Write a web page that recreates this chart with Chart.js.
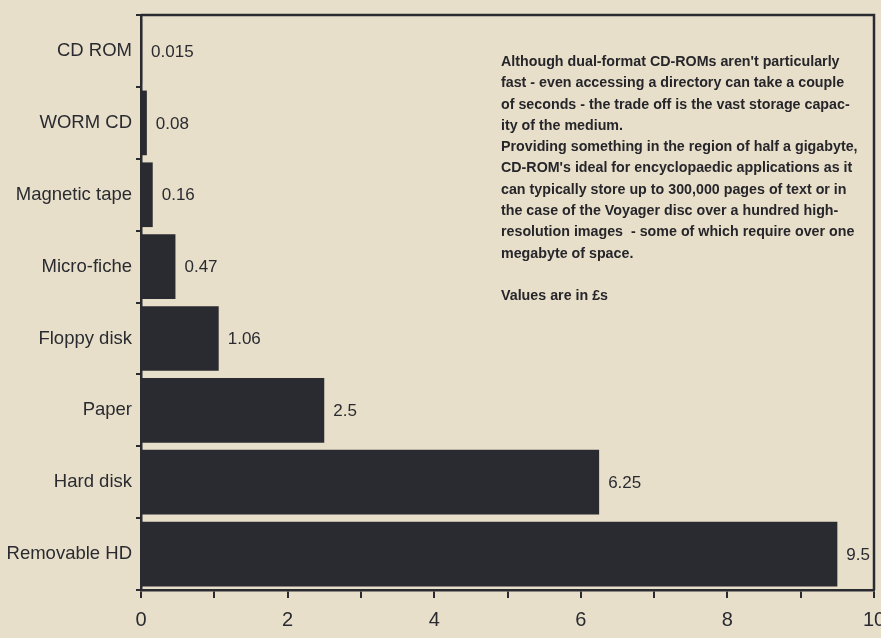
<!DOCTYPE html>
<html>
<head>
<meta charset="utf-8">
<script src="https://cdn.jsdelivr.net/npm/chart.js@4"></script>
<style>
  html, body { margin: 0; padding: 0; background: #e8dfcb; }
  #wrap { position: relative; width: 881px; height: 638px; overflow: hidden; }
  #note {
    position: absolute; left: 501px; top: 50px; width: 420px;
    font-family: 'Liberation Sans', Arial, sans-serif;
    font-weight: bold; font-size: 15.5px; line-height: 21.3px; color: #26262a;
    white-space: nowrap;
    transform: scaleX(0.92); transform-origin: left top;
  }
</style>
</head>
<body>
<div id="wrap">
  <canvas id="chartInfo" width="881" height="638"></canvas>
  <div id="note">
    Although dual-format CD-ROMs aren't particularly<br>
    fast - even accessing a directory can take a couple<br>
    of seconds - the trade off is the vast storage capac-<br>
    ity of the medium.<br>
    Providing something in the region of half a gigabyte,<br>
    CD-ROM's ideal for encyclopaedic applications as it<br>
    can typically store up to 300,000 pages of text or in<br>
    the case of the Voyager disc over a hundred high-<br>
    resolution images &nbsp;- some of which require over one<br>
    megabyte of space.<br>
    <br>
    Values are in £s
  </div>
</div>
<script>
// storage media and cost values (in £s)
var media = ['CD ROM', 'WORM CD', 'Magnetic tape', 'Micro-fiche', 'Floppy disk', 'Paper', 'Hard disk', 'Removable HD']
var cost = [0.015, 0.08, 0.16, 0.47, 1.06, 2.5, 6.25, 9.5]
var valueLabels = ['0.015', '0.08', '0.16', '0.47', '1.06', '2.5', '6.25', '9.5']
var xTicks = [0, 2, 4, 6, 8, 10]

var ink = '#2a2b30'
var sans = "'Liberation Sans', Arial, sans-serif"

//writes the value next to the end of each bar
var valuePlugin = {
    id: 'values',
    afterDatasetsDraw: function (chart) {
        var ctx = chart.ctx
        var bars = chart.getDatasetMeta(0).data
        ctx.save()
        ctx.fillStyle = ink
        ctx.font = '17px ' + sans
        ctx.textBaseline = 'middle'
        for (var i = 0; i < bars.length; i++) {
            ctx.fillText(valueLabels[i], bars[i].x + 9, bars[i].y + 1)
        }
        ctx.restore()
    }
}

//frame on top and right of the plot
var framePlugin = {
    id: 'frame',
    afterDraw: function (chart) {
        var a = chart.chartArea
        var ctx = chart.ctx
        ctx.save()
        ctx.strokeStyle = ink
        ctx.lineWidth = 2.5
        ctx.beginPath()
        ctx.moveTo(a.left, a.top)
        ctx.lineTo(a.right, a.top)
        ctx.lineTo(a.right, a.bottom)
        ctx.stroke()
        ctx.restore()
    }
}

var canvas = document.getElementById('chartInfo')
var ctx = canvas.getContext('2d')
var myChart = new Chart(ctx, {
    type: 'bar',
    data: {
        labels: media,
        datasets: [{
            data: cost,
            backgroundColor: ink,
            barPercentage: 0.9,
            categoryPercentage: 1
        }]
    },
    plugins: [valuePlugin, framePlugin],
    options: {
        indexAxis: 'y',
        responsive: false,
        animation: false,
        layout: { padding: { top: 6, right: 7, bottom: 0, left: 0 } },
        plugins: { legend: { display: false }, tooltip: { enabled: false } },
        scales: {
            x: {
                min: 0,
                max: 10,
                afterFit: function (scale) { scale.paddingRight = 0; scale.height = 48 },
                ticks: {
                    stepSize: 1,
                    color: ink,
                    font: { size: 20, family: sans },
                    padding: 10,
                    maxRotation: 0,
                    autoSkip: false,
                    callback: function (v) { return xTicks.indexOf(v) >= 0 ? v : '' }
                },
                grid: { drawOnChartArea: false, color: ink, tickLength: 8, lineWidth: 2 },
                border: { color: ink, width: 2.5 }
            },
            y: {
                afterFit: function (scale) { scale.width = 141 },
                ticks: {
                    color: ink,
                    font: { size: 18.5, family: sans },
                    padding: 4
                },
                grid: { drawOnChartArea: false, offset: true, color: ink, tickLength: 5, lineWidth: 2 },
                border: { color: ink, width: 2.5 }
            }
        }
    }
})
</script>
</body>
</html>
